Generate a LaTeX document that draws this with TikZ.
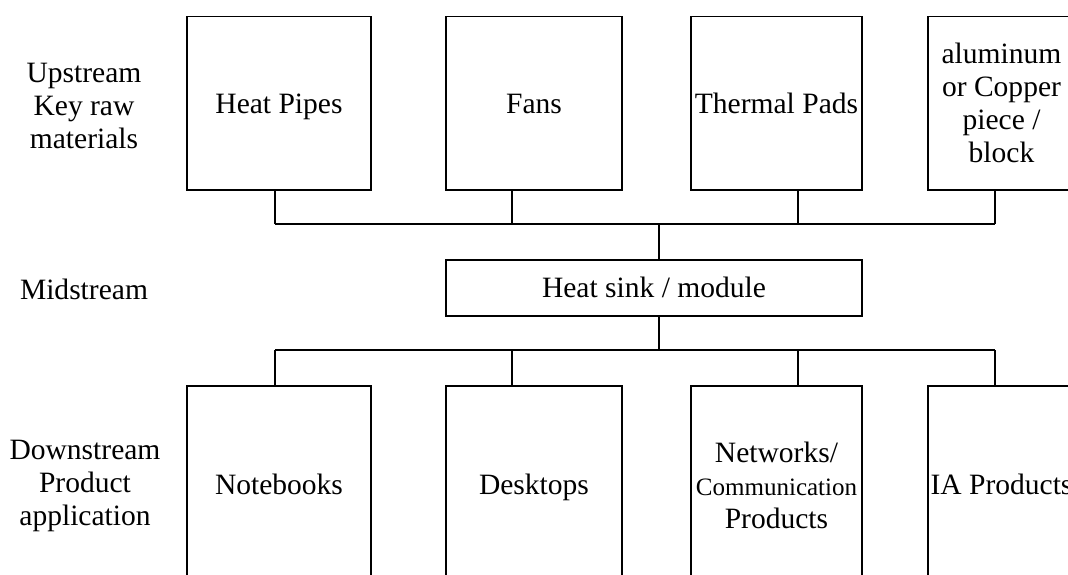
\documentclass[tikz,border=0pt]{standalone}
\usepackage{fontspec}
\setmainfont{Liberation Serif}
\usepackage{tikz}
\pgfdeclarelayer{bg}
\pgfsetlayers{bg,main}
\tikzset{
    every node/.style={inner sep=0mm, align=center, font=\fontsize{21}{23.5}\selectfont},
    box/.style={rectangle, draw, line width=1.1pt, minimum height=4.33cm},
    lowbox/.style={box, minimum height=4.95cm},
    one/.style={text height=16.5pt, text depth=2.5pt},
    side/.style={draw=none},
    link/.style={line width=1.1pt}
}

\begin{document}
\begin{tikzpicture}[x=0.025cm, y=-0.025cm]
    \useasboundingbox (0,0) rectangle (1068,574);
    \clip (0,0) rectangle (1068,574);

    \node (up) [side] at (84, 106) {Upstream\\Key raw\\materials};
    \node (mid) [side, one] at (84, 290) {Midstream};
    \node (down) [side] at (85, 486) {Downstream\\Product\\application};

    \node (hp) [box, one, minimum width=4.6cm] at (279, 103.3) {Heat Pipes};
    \node (fan) [box, one, minimum width=4.4cm] at (534, 103.3) {Fans};
    \node (tp) [box, one, minimum width=4.275cm] at (776.5, 103.3) {Thermal Pads};
    \node (al) [box, minimum width=3.675cm] at (1001.5, 103.3) {aluminum\\or Copper\\piece /\\block};

    \node (hs) [box, one, minimum width=10.4cm, minimum height=1.4cm] at (654, 288) {Heat sink / module};

    \node (nb) [lowbox, one, minimum width=4.6cm] at (279, 485) {Notebooks};
    \node (dt) [lowbox, one, minimum width=4.4cm] at (534, 485) {Desktops};
    \node (nw) [lowbox, minimum width=4.275cm] at (776.5, 485) {Networks/\\{\fontsize{17.8}{23.5}\selectfont Communication}\\Products};
    \node (ia) [lowbox, one, minimum width=3.675cm] at (1001.5, 485) {IA Products};

    \coordinate (t1) at (275, 224);
    \coordinate (t2) at (512, 224);
    \coordinate (t3) at (798, 224);
    \coordinate (t4) at (995, 224);
    \coordinate (tm) at (659, 224);

    \coordinate (b1) at (275, 350);
    \coordinate (b2) at (512, 350);
    \coordinate (b3) at (798, 350);
    \coordinate (b4) at (995, 350);
    \coordinate (bm) at (659, 350);

    \begin{pgfonlayer}{bg}
        \draw[link] (t1) edge (t4);
        \draw[link] (t1) edge (t1 |- hp.south);
        \draw[link] (t2) edge (t2 |- fan.south);
        \draw[link] (t3) edge (t3 |- tp.south);
        \draw[link] (t4) edge (t4 |- al.south);
        \draw[link] (tm) edge (tm |- hs.north);

        \draw[link] (b1) edge (b4);
        \draw[link] (b1) edge (b1 |- nb.north);
        \draw[link] (b2) edge (b2 |- dt.north);
        \draw[link] (b3) edge (b3 |- nw.north);
        \draw[link] (b4) edge (b4 |- ia.north);
        \draw[link] (bm) edge (bm |- hs.south);
    \end{pgfonlayer}
\end{tikzpicture}
\end{document}
